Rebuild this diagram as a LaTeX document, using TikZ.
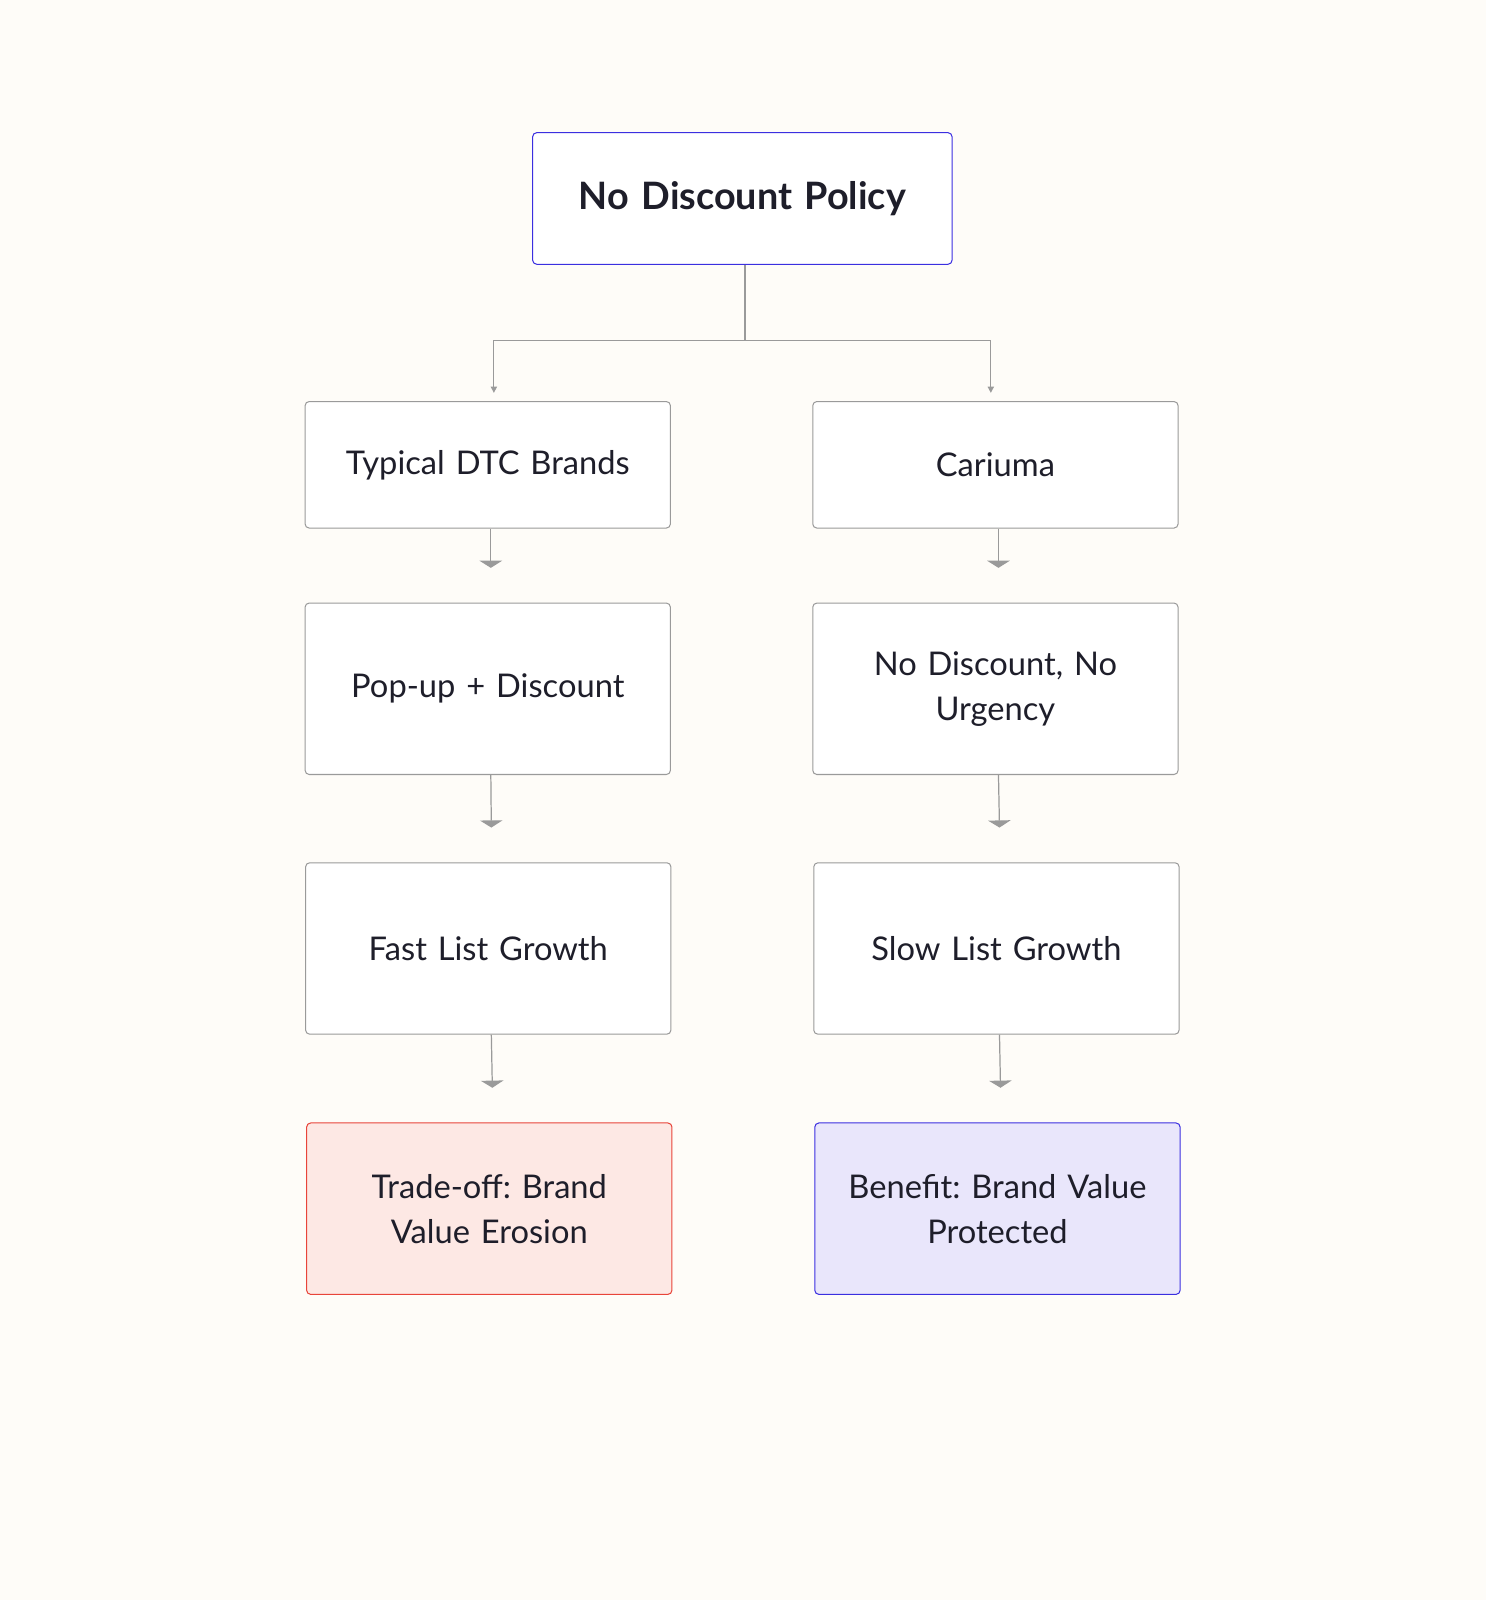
\documentclass[tikz,border=0pt]{standalone}
\usepackage{fontspec}
\setmainfont{Lato}
\frenchspacing
\usetikzlibrary{arrows.meta}
\definecolor{bg}{HTML}{FEFCF8}
\definecolor{edge}{HTML}{9A9A9A}
\definecolor{blueline}{HTML}{3B2FE0}
\definecolor{redfill}{HTML}{FDE8E4}
\definecolor{redline}{HTML}{E8443A}
\definecolor{lavfill}{HTML}{E9E6FB}
\definecolor{ink}{HTML}{1E1E2A}
\tikzset{
  box/.style={draw=edge, fill=white, rounded corners=4pt, line width=1pt,
    minimum width=358pt, minimum height=#1, align=center, text width=330pt,
    font=\fontsize{32}{44}\selectfont, text=ink},
  box/.default=124pt,
  link/.style={draw=edge, line width=1.2pt, -{Triangle[width=22pt,length=7pt]}},
  thin link/.style={draw=edge, line width=1.2pt, -{Triangle[width=6pt,length=6pt]}}
}
\begin{document}
\begin{tikzpicture}[x=1pt,y=-1pt]
\fill[bg] (0,0) rectangle (1456,1568);
\useasboundingbox (0,0) rectangle (1456,1568);

%top box
\node[box=129pt, draw=blueline, minimum width=411pt, text width=400pt,
  font=\fontsize{37}{42}\selectfont\bfseries] (policy) at (727.5,194.5) {No Discount Policy};

%left column
\node[box] (typical) at (478,455.5) {Typical DTC Brands};
\node[box=168pt] (popup) at (478,675) {Pop-up + Discount};
\node[box=168pt] (fast) at (478.5,929.5) {Fast List Growth};
\node[box=168pt, fill=redfill, draw=redline] (tradeoff) at (479.5,1184.5) {Trade-off: Brand\\Value Erosion};

%right column
\node[box] (cariuma) at (975.5,455.5) {Cariuma};
\node[box=168pt] (nodisc) at (975.5,675) {No Discount, No\\Urgency};
\node[box=168pt] (slow) at (976.5,929.5) {Slow List Growth};
\node[box=168pt, fill=lavfill, draw=blueline] (benefit) at (977.5,1184.5) {Benefit: Brand Value\\Protected};

%split
\coordinate (split) at (730,334);
\draw[draw=edge, line width=1.2pt] (policy.south -| split) -- (split);
\draw[thin link] (split) -| ([xshift=6pt,yshift=8pt]typical.north);
\draw[thin link] (split) -| ([xshift=-4.5pt,yshift=8pt]cariuma.north);

%down arrows
\foreach \a/\b in {typical/popup,popup/fast,fast/tradeoff,cariuma/nodisc,nodisc/slow,slow/benefit}
  \draw[link] ([xshift=3pt]\a.south) -- ([xshift=3pt,yshift=34pt]\b.north);
\end{tikzpicture}
\end{document}
